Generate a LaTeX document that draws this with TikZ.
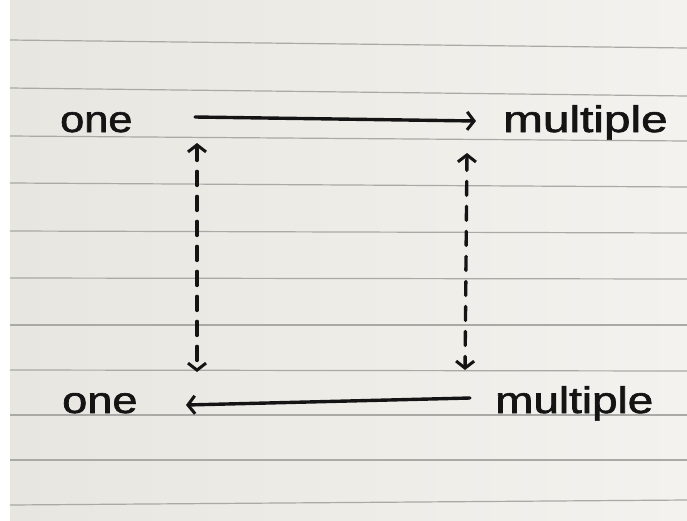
\documentclass[tikz,border=0pt]{standalone}
\usepackage{fontspec}
\setmainfont{Liberation Sans}
\newfontfamily\handfont{Liberation Sans}[FakeBold=1.6]
\usetikzlibrary{arrows.meta}
\definecolor{inkc}{HTML}{141414}
\definecolor{paperL}{HTML}{E8E6E0}
\definecolor{paperR}{HTML}{F3F2EE}
\definecolor{rulec}{HTML}{A9A9A5}
\begin{document}
\begin{tikzpicture}[x=1pt,y=-1pt,
  ink/.style={draw=inkc, line width=3.4pt, line cap=round},
  harrow/.style={ink, -{Straight Barb[length=7pt,width=18pt,line width=3pt]}},
  darrow/.style={ink, dash pattern=on 14pt off 11pt,
    {Straight Barb[length=7pt,width=18pt,line width=3pt]}-{Straight Barb[length=7pt,width=18pt,line width=3pt]}},
  rule/.style={draw=rulec, line width=1.2pt},
  lbl/.style={inner sep=0pt, anchor=base west, text=inkc, font=\handfont\fontsize{37}{37}\selectfont}
]
\useasboundingbox (0,0) rectangle (687,520);
\fill[white] (0,0) rectangle (687,520);
\shade[left color=paperL, right color=paperR] (10,0) rectangle (687,520);
% ruled lines
\draw[rule] (10,40) -- (687,48);
\draw[rule] (10,88) -- (687,96);
\draw[rule] (10,136) -- (687,141);
\draw[rule] (10,183) -- (687,187);
\draw[rule] (10,231) -- (687,233);
\draw[rule] (10,278) -- (687,279);
\draw[rule] (10,325) -- (687,325);
\draw[rule] (10,370) -- (687,371);
\draw[rule] (10,415) -- (687,415);
\draw[rule] (10,460) -- (687,460);
\draw[rule] (10,505) -- (687,500);
% labels
\node[lbl] (one1) at (60,132) {\scalebox{1.17}[1]{one}};
\node[lbl] (mult1) at (503,132) {\scalebox{1.29}[1]{multiple}};
\node[lbl] (one2) at (62,413) {\scalebox{1.22}[1]{one}};
\node[lbl] (mult2) at (495,413) {\scalebox{1.24}[1]{multiple}};
% connector ends
\coordinate (ta) at (195,117);
\coordinate (tb) at (476,121);
\coordinate (ba) at (470,398);
\coordinate (bb) at (186,405);
\coordinate (la) at (197,143);
\coordinate (lb) at (197,372);
\coordinate (ra) at (467,153);
\coordinate (rb) at (465,370);
% connectors
\draw[harrow] (ta) -- (tb);
\draw[harrow] (ba) -- (bb);
\draw[darrow] (la) -- (lb);
\draw[darrow] (ra) -- (rb);
\end{tikzpicture}
\end{document}
